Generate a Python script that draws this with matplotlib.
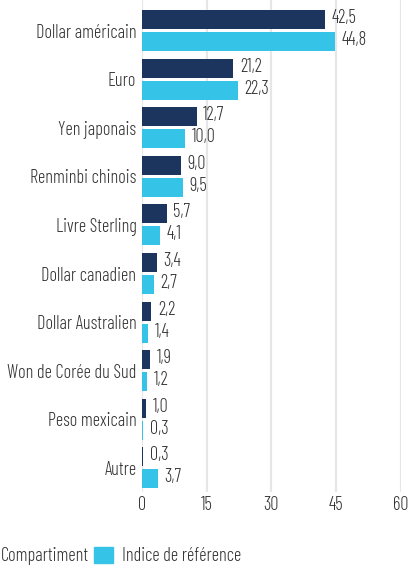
import numpy as np
import matplotlib
matplotlib.use("Agg")
import matplotlib.pyplot as plt
from matplotlib.patches import Patch

plt.rcParams['font.family'] = ['Barlow Condensed', 'DejaVu Sans']
plt.rcParams['font.weight'] = 300

# Data
devises = ['Dollar américain', 'Euro', 'Yen japonais', 'Renminbi chinois', 'Livre Sterling',
           'Dollar canadien', 'Dollar Australien', 'Won de Corée du Sud', 'Peso mexicain', 'Autre']
compartiment = [42.5, 21.2, 12.7, 9.0, 5.7, 3.4, 2.2, 1.9, 1.0, 0.3]
indice = [44.8, 22.3, 10.0, 9.5, 4.1, 2.7, 1.4, 1.2, 0.3, 3.7]
xticks = [0, 15, 30, 45, 60]

dark = '#1c355e'
light = '#35c4e8'
txt = '#333333'
fs = 13.2

fig = plt.figure(figsize=(4.09, 5.65), dpi=100)
ax = fig.add_axes([0.347, 0.129, 0.633, 0.871])

y = np.arange(len(devises))
h = 0.39
off = 0.226
ax.barh(y - off, compartiment, height=h, color=dark, zorder=3)
ax.barh(y + off, indice, height=h, color=light, zorder=3)

# value labels next to each bar
for yi, v in zip(y, compartiment):
    ax.text(v + 1.5, yi - off - 0.03, f'{v:.1f}'.replace('.', ','), va='center', ha='left',
            fontsize=fs, color=txt)
for yi, v in zip(y, indice):
    ax.text(v + 1.5, yi + off - 0.03, f'{v:.1f}'.replace('.', ','), va='center', ha='left',
            fontsize=fs, color=txt)

ax.set_xlim(0, 60)
ax.set_ylim(len(devises) - 0.5, -0.63)
ax.set_xticks(xticks)
ax.set_xticklabels([str(t) for t in xticks])
ax.set_yticks(y)
ax.set_yticklabels(devises)
ax.tick_params(axis='both', length=0, labelsize=fs, labelcolor=txt)
ax.tick_params(axis='x', pad=3)
ax.tick_params(axis='y', pad=4)
ax.grid(axis='x', color='#e6e6e6', linewidth=1.6, zorder=0)
for s in ax.spines.values():
    s.set_visible(False)

handles = [Patch(color=dark, label='Compartiment'), Patch(color=light, label='Indice de référence')]
fig.legend(handles=handles, loc='lower left', bbox_to_anchor=(-0.106, -0.03), ncol=2,
           frameon=False, fontsize=fs, handlelength=1.0, handleheight=1.0,
           handletextpad=0.5, columnspacing=0.3, labelcolor=txt)

fig.savefig('out.png', dpi=100, facecolor='white')
